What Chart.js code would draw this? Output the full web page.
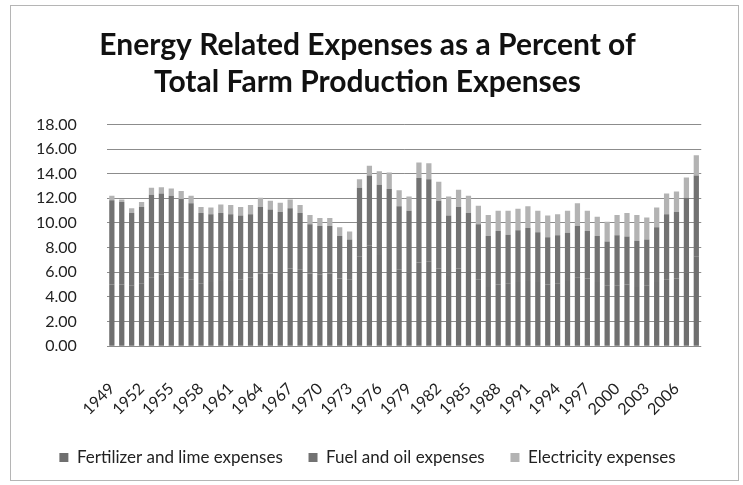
<!DOCTYPE html>
<html>
<head>
<meta charset="utf-8">
<script src="https://cdn.jsdelivr.net/npm/chart.js@4/dist/chart.umd.min.js"></script>
<style>
    html, body { margin: 0; padding: 0; background: #fff; }
    #wrap { position: relative; width: 743px; height: 485px; }
    #frame { position: absolute; left: 10px; top: 5px; width: 727px; height: 474px; border: 1px solid #b5b5b5; pointer-events: none; }
</style>
</head>
<body>
<div id="wrap">
    <canvas id="energyChart" width="743" height="485"></canvas>
    <div id="frame"></div>
</div>
<script>
// =====================================================
// Data (percent of total farm production expenses)
// =====================================================
const years = [
    '1949', '1950', '1951', '1952', '1953', '1954', '1955', '1956', '1957', '1958',
    '1959', '1960', '1961', '1962', '1963', '1964', '1965', '1966', '1967', '1968',
    '1969', '1970', '1971', '1972', '1973', '1974', '1975', '1976', '1977', '1978',
    '1979', '1980', '1981', '1982', '1983', '1984', '1985', '1986', '1987', '1988',
    '1989', '1990', '1991', '1992', '1993', '1994', '1995', '1996', '1997', '1998',
    '1999', '2000', '2001', '2002', '2003', '2004', '2005', '2006', '2007', '2008'
];

const fertilizerLime = [
    5.0, 5.0, 4.9, 5.1, 5.6, 5.8, 5.7, 5.6, 5.4, 5.1,
    5.2, 5.3, 5.3, 5.4, 5.6, 5.9, 5.9, 6.0, 6.3, 6.2,
    5.9, 5.8, 5.9, 5.5, 5.4, 7.3, 8.2, 7.4, 7.0, 6.2,
    6.0, 6.8, 6.9, 6.3, 5.7, 6.3, 6.1, 5.4, 4.8, 5.0,
    5.1, 5.2, 5.3, 5.2, 5.0, 5.1, 5.3, 5.6, 5.5, 5.2,
    4.9, 4.9, 5.0, 4.8, 4.9, 5.2, 5.4, 5.5, 6.0, 7.3
];

const fuelOil = [
    6.85, 6.7, 5.9, 6.2, 6.7, 6.6, 6.5, 6.35, 6.2, 5.7,
    5.5, 5.5, 5.4, 5.2, 5.1, 5.4, 5.2, 4.9, 4.9, 4.6,
    4.0, 3.95, 3.85, 3.45, 3.25, 5.55, 5.65, 5.7, 5.75, 5.15,
    5.0, 6.85, 6.65, 5.5, 4.9, 5.0, 4.7, 4.5, 4.15, 4.35,
    3.95, 4.2, 4.3, 4.05, 3.85, 3.9, 3.9, 4.15, 3.85, 3.75,
    3.6, 4.1, 3.9, 3.75, 3.75, 4.45, 5.3, 5.4, 6.05, 6.55
];

const electricity = [
    0.35, 0.2, 0.4, 0.4, 0.55, 0.5, 0.6, 0.65, 0.6, 0.5,
    0.55, 0.7, 0.75, 0.7, 0.75, 0.75, 0.7, 0.75, 0.7, 0.65,
    0.75, 0.65, 0.65, 0.7, 0.65, 0.7, 0.8, 1.1, 1.35, 1.3,
    1.15, 1.25, 1.3, 1.55, 1.55, 1.4, 1.4, 1.5, 1.7, 1.65,
    1.95, 1.75, 1.75, 1.75, 1.75, 1.7, 1.8, 1.85, 1.65, 1.55,
    1.6, 1.65, 1.9, 2.1, 1.8, 1.6, 1.7, 1.65, 1.65, 1.65
];

const yTicks = [0, 2, 4, 6, 8, 10, 12, 14, 16, 18];

// =====================================================
// Build the stacked bar chart
// =====================================================
const FONT = 'Lato, "Liberation Sans", sans-serif';

const datasets = [
    { label: 'Fertilizer and lime expenses', data: fertilizerLime, backgroundColor: '#6f6f6f' },
    { label: 'Fuel and oil expenses', data: fuelOil, backgroundColor: '#727272' },
    { label: 'Electricity expenses', data: electricity, backgroundColor: '#b3b3b3' }
].map(ds => ({ ...ds, barPercentage: 0.53, categoryPercentage: 1.0, borderWidth: 0 }));

const ctx = document.getElementById('energyChart').getContext('2d');

new Chart(ctx, {
    type: 'bar',
    data: { labels: years, datasets: datasets },
    options: {
        responsive: false,
        animation: false,
        layout: { padding: { left: 6, right: 14, top: 27, bottom: 9 } },
        plugins: {
            title: {
                display: true,
                text: ['Energy Related Expenses as a Percent of', 'Total Farm Production Expenses'],
                color: '#111',
                font: { family: FONT, size: 30, weight: 'bold', lineHeight: 1.24 },
                padding: { top: 0, bottom: 23 }
            },
            legend: {
                position: 'bottom',
                labels: {
                    color: '#222',
                    font: { family: FONT, size: 17 },
                    boxWidth: 9,
                    boxHeight: 9,
                    padding: 4,
                    // small vertical padding, so the gap between items comes from trailing spaces
                    generateLabels: chart => {
                        const items = Chart.defaults.plugins.legend.labels.generateLabels(chart);
                        items.forEach((item, i) => {
                            if (i < items.length - 1) item.text += '     ';
                        });
                        return items;
                    }
                }
            },
            tooltip: { enabled: false }
        },
        scales: {
            x: {
                stacked: true,
                // the axis box reserves more than the rotated labels need
                afterFit: axis => { axis.height -= 7; },
                grid: { display: false, drawTicks: false },
                border: { display: false },
                ticks: {
                    autoSkip: false,
                    maxRotation: 45,
                    minRotation: 45,
                    padding: 33,
                    color: '#222',
                    font: { family: FONT, size: 16 },
                    callback: (v, i) => (i % 3 === 0 ? years[i] : '')
                }
            },
            y: {
                stacked: true,
                min: yTicks[0],
                max: yTicks[yTicks.length - 1],
                afterBuildTicks: axis => { axis.ticks = yTicks.map(v => ({ value: v })); },
                grid: { color: '#8c8c8c', lineWidth: 1, drawTicks: false },
                border: { display: false },
                ticks: {
                    padding: 30,
                    color: '#222',
                    font: { family: FONT, size: 16 },
                    callback: v => Number(v).toFixed(2)
                }
            }
        }
    }
});
</script>
</body>
</html>
